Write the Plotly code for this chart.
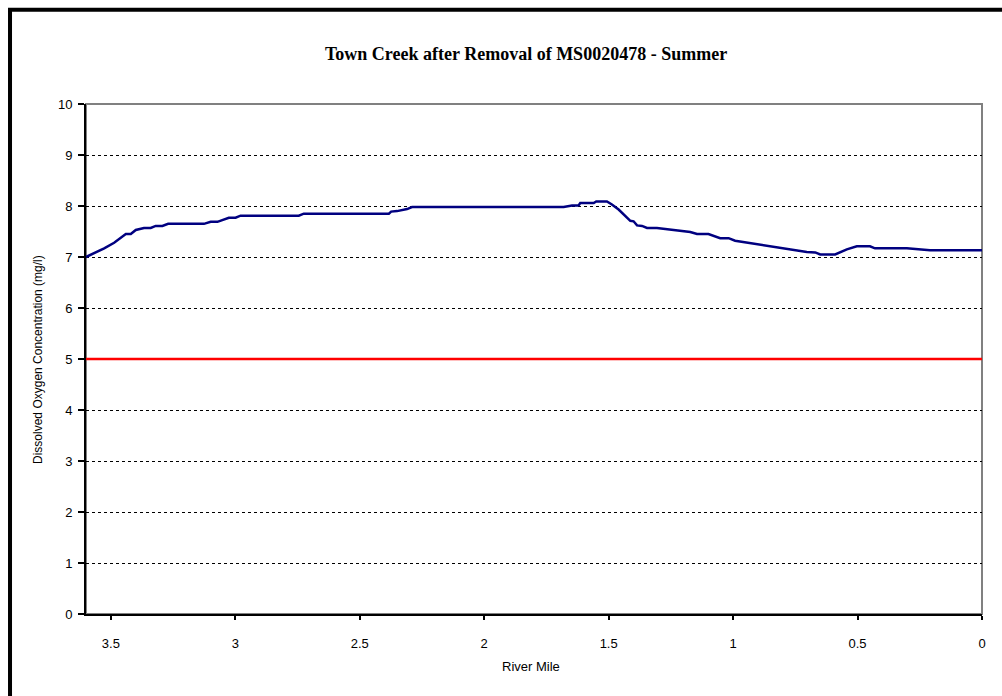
import plotly.graph_objects as go

# Dissolved oxygen profile along Town Creek (river mile, mg/l)
river_mile = [3.600, 3.527, 3.487, 3.440, 3.420, 3.400, 3.367, 3.340, 3.320, 3.293,
              3.270, 3.126, 3.099, 3.072, 3.026, 2.999, 2.979, 2.745, 2.725, 2.383,
              2.374, 2.350, 2.310, 2.290, 1.681, 1.647, 1.621, 1.614, 1.560, 1.550,
              1.507, 1.487, 1.460, 1.413, 1.400, 1.386, 1.366, 1.346, 1.306, 1.226,
              1.172, 1.145, 1.099, 1.052, 1.018, 0.992, 0.704, 0.670, 0.650, 0.590,
              0.543, 0.503, 0.450, 0.430, 0.302, 0.209, 0.000]
do_conc = [7.00, 7.17, 7.28, 7.45, 7.45, 7.53, 7.57, 7.57, 7.61, 7.61,
           7.65, 7.65, 7.69, 7.69, 7.77, 7.77, 7.81, 7.81, 7.85, 7.85,
           7.89, 7.90, 7.94, 7.98, 7.98, 8.01, 8.01, 8.06, 8.06, 8.09,
           8.09, 8.03, 7.93, 7.71, 7.70, 7.62, 7.61, 7.57, 7.57, 7.52,
           7.49, 7.45, 7.45, 7.37, 7.37, 7.32, 7.10, 7.09, 7.05, 7.05,
           7.15, 7.21, 7.21, 7.17, 7.17, 7.13, 7.13]

# Water quality standard
standard_mile = [3.6, 0.0]
standard_value = [5, 5]

x_ticks = [3.5, 3, 2.5, 2, 1.5, 1, 0.5, 0]
x_tick_text = ["3.5", "3", "2.5", "2", "1.5", "1", "0.5", "0"]
y_ticks = list(range(0, 11))

fig = go.Figure()
fig.add_trace(go.Scatter(x=standard_mile, y=standard_value, mode="lines",
                         line=dict(color="#ff0000", width=2.5), hoverinfo="skip"))
fig.add_trace(go.Scatter(x=river_mile, y=do_conc, mode="lines",
                         line=dict(color="#000080", width=2.5)))

sans = "Liberation Sans, Arial, sans-serif"

fig.update_layout(
    width=1002, height=696,
    margin=dict(l=86, r=20, t=104, b=82),
    paper_bgcolor="white", plot_bgcolor="white",
    showlegend=False,
    font=dict(family=sans, size=13, color="black"),
    xaxis=dict(range=[3.6, 0], tickvals=x_ticks, ticktext=x_tick_text,
               showgrid=False, zeroline=False,
               showline=True, linecolor="black", linewidth=2,
               ticks="outside", ticklen=4, tickwidth=2, tickcolor="black",
               ticklabelstandoff=12, tickfont=dict(size=13)),
    yaxis=dict(range=[0, 10], tickvals=y_ticks,
               showgrid=True, gridcolor="black", gridwidth=1, griddash="dot",
               zeroline=False,
               showline=True, linecolor="black", linewidth=2,
               ticks="outside", ticklen=6, tickwidth=2, tickcolor="black",
               ticklabelstandoff=3, tickfont=dict(size=13)),
    shapes=[
        # grey plot-area border (top and right show through)
        dict(type="rect", xref="paper", yref="paper", x0=0, x1=1, y0=0, y1=1,
             line=dict(color="#808080", width=2), layer="below"),
        # outer chart frame
        dict(type="rect", xref="paper", yref="paper",
             x0=-0.0848, x1=1.06, y0=-0.25, y1=1.185,
             line=dict(color="black", width=4), layer="above"),
    ],
    annotations=[
        dict(text="<b>Town Creek after Removal of MS0020478 - Summer</b>",
             xref="paper", yref="paper", x=0.491, y=1.098,
             xanchor="center", yanchor="middle", showarrow=False,
             font=dict(family="Liberation Serif, Times New Roman, serif", size=18, color="black")),
        dict(text="Dissolved Oxygen Concentration (mg/l)",
             xref="paper", yref="paper", x=-0.0536, y=0.5, textangle=-90,
             xanchor="center", yanchor="middle", showarrow=False,
             font=dict(family=sans, size=12, color="black")),
        dict(text="River Mile", xref="paper", yref="paper", x=0.497, y=-0.102,
             xanchor="center", yanchor="middle", showarrow=False,
             font=dict(family=sans, size=13, color="black")),
    ],
)

fig.write_html("out.html")
